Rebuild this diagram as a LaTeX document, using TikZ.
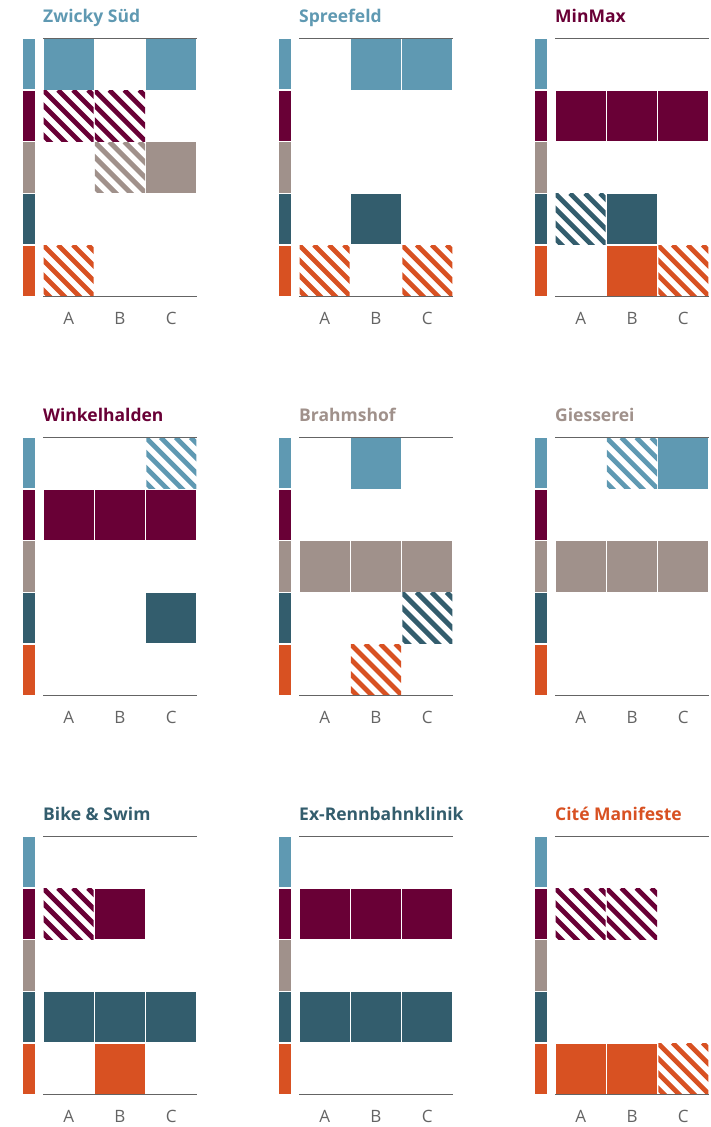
\documentclass[tikz,border=0pt]{standalone}
\usepackage{fontspec}
\setmainfont{Open Sans}
\usetikzlibrary{positioning}

\definecolor{cblue}{RGB}{95,153,178}
\definecolor{cmaroon}{RGB}{105,0,54}
\definecolor{ctaupe}{RGB}{160,145,139}
\definecolor{cteal}{RGB}{51,93,109}
\definecolor{corange}{RGB}{216,81,34}
\definecolor{crule}{RGB}{100,100,100}

% one cell of the grid: column #1, row #2, colour #3
\newcommand{\fullcell}[3]{%
	\fill[#3] (43.6+51.33*#1,38.5+51.6*#2+0.6) rectangle ++(50.1,50.4);}
\newcommand{\hatchcell}[3]{%
	\begin{scope}
		\clip (43.6+51.33*#1,38.5+51.6*#2+0.6) rectangle ++(50.1,50.4);
		\foreach \k in {-4,...,4}
		\draw[hatchline,#3] (43+51.33*#1+15*\k,38.5+51.6*#2) -- ++(60,60);
	\end{scope}}

% frame of one panel: name #1, title #2, title colour #3
\newcommand{\panelframe}[3]{%
	\foreach \c [count=\r from 0] in {cblue,cmaroon,ctaupe,cteal,corange}
	\fill[\c] (23,38.5+51.6*\r+0.7) rectangle (35,38.5+51.6*\r+50.9);
	\node[paneltitle,text=#3] (#1-title) at (43,22.5) {#2};
	\node[collabel] (#1-A) at (68.7,318.5) {A};
	\node[collabel] (#1-B) at (120,318.5) {B};
	\node[collabel] (#1-C) at (171.3,318.5) {C};}
\newcommand{\panelrules}{%
	\draw[rule] (43,38.5) -- (196.7,38.5);
	\draw[rule] (43,296.5) -- (196.7,296.5);}

\begin{document}
\begin{tikzpicture}[
	x=1pt,y=-1pt,
	paneltitle/.style={
		anchor=base west,
		inner sep=0pt,
		font=\fontsize{17.5}{20}\selectfont\bfseries
	},
	collabel/.style={
		inner sep=0pt,
		text=crule,
		font=\fontsize{17}{20}\selectfont
	},
	rule/.style={
		draw=crule,
		line width=1.3pt
	},
	hatchline/.style={
		line width=4.8pt
	}
	]
	
	\useasboundingbox (0,0) rectangle (711,1127);
	
	% -------------------------------------------------------------------------
	% First row
	% -------------------------------------------------------------------------
	
	\begin{scope}[shift={(0,0)}]
		\panelframe{zs}{Zwicky Süd}{cblue}
		\fullcell{0}{0}{cblue}
		\fullcell{2}{0}{cblue}
		\hatchcell{0}{1}{cmaroon}
		\hatchcell{1}{1}{cmaroon}
		\hatchcell{1}{2}{ctaupe}
		\fullcell{2}{2}{ctaupe}
		\hatchcell{0}{4}{corange}
		\panelrules
	\end{scope}
	
	\begin{scope}[shift={(256,0)}]
		\panelframe{sf}{Spreefeld}{cblue}
		\fullcell{1}{0}{cblue}
		\fullcell{2}{0}{cblue}
		\fullcell{1}{3}{cteal}
		\hatchcell{0}{4}{corange}
		\hatchcell{2}{4}{corange}
		\panelrules
	\end{scope}
	
	\begin{scope}[shift={(512,0)}]
		\panelframe{mm}{MinMax}{cmaroon}
		\fullcell{0}{1}{cmaroon}
		\fullcell{1}{1}{cmaroon}
		\fullcell{2}{1}{cmaroon}
		\hatchcell{0}{3}{cteal}
		\fullcell{1}{3}{cteal}
		\fullcell{1}{4}{corange}
		\hatchcell{2}{4}{corange}
		\panelrules
	\end{scope}
	
	% -------------------------------------------------------------------------
	% Second row
	% -------------------------------------------------------------------------
	
	\begin{scope}[shift={(0,399)}]
		\panelframe{wh}{Winkelhalden}{cmaroon}
		\hatchcell{2}{0}{cblue}
		\fullcell{0}{1}{cmaroon}
		\fullcell{1}{1}{cmaroon}
		\fullcell{2}{1}{cmaroon}
		\fullcell{2}{3}{cteal}
		\panelrules
	\end{scope}
	
	\begin{scope}[shift={(256,399)}]
		\panelframe{bh}{Brahmshof}{ctaupe}
		\fullcell{1}{0}{cblue}
		\fullcell{0}{2}{ctaupe}
		\fullcell{1}{2}{ctaupe}
		\fullcell{2}{2}{ctaupe}
		\hatchcell{2}{3}{cteal}
		\hatchcell{1}{4}{corange}
		\panelrules
	\end{scope}
	
	\begin{scope}[shift={(512,399)}]
		\panelframe{gs}{Giesserei}{ctaupe}
		\hatchcell{1}{0}{cblue}
		\fullcell{2}{0}{cblue}
		\fullcell{0}{2}{ctaupe}
		\fullcell{1}{2}{ctaupe}
		\fullcell{2}{2}{ctaupe}
		\panelrules
	\end{scope}
	
	% -------------------------------------------------------------------------
	% Third row
	% -------------------------------------------------------------------------
	
	\begin{scope}[shift={(0,798)}]
		\panelframe{bs}{Bike \& Swim}{cteal}
		\hatchcell{0}{1}{cmaroon}
		\fullcell{1}{1}{cmaroon}
		\fullcell{0}{3}{cteal}
		\fullcell{1}{3}{cteal}
		\fullcell{2}{3}{cteal}
		\fullcell{1}{4}{corange}
		\panelrules
	\end{scope}
	
	\begin{scope}[shift={(256,798)}]
		\panelframe{er}{Ex-Rennbahnklinik}{cteal}
		\fullcell{0}{1}{cmaroon}
		\fullcell{1}{1}{cmaroon}
		\fullcell{2}{1}{cmaroon}
		\fullcell{0}{3}{cteal}
		\fullcell{1}{3}{cteal}
		\fullcell{2}{3}{cteal}
		\panelrules
	\end{scope}
	
	\begin{scope}[shift={(512,798)}]
		\panelframe{cm}{Cité Manifeste}{corange}
		\hatchcell{0}{1}{cmaroon}
		\hatchcell{1}{1}{cmaroon}
		\fullcell{0}{4}{corange}
		\fullcell{1}{4}{corange}
		\hatchcell{2}{4}{corange}
		\panelrules
	\end{scope}
	
\end{tikzpicture}
\end{document}
